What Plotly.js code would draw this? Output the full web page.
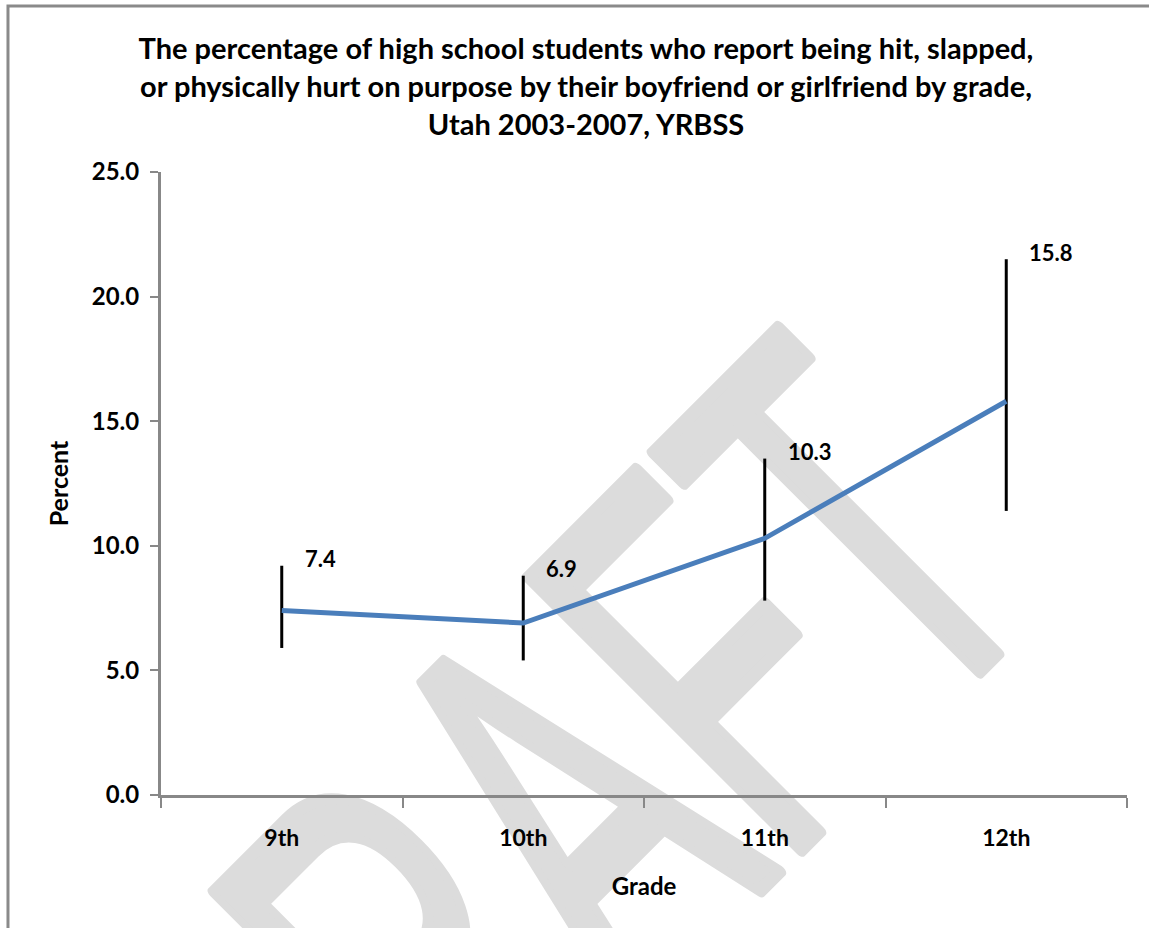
<!DOCTYPE html>
<html>
<head>
<meta charset="utf-8">
<script src="https://cdn.plot.ly/plotly-3.0.1.min.js"></script>
<style>
html,body{margin:0;padding:0;background:#fff;}
#chart{width:1149px;height:928px;}
</style>
</head>
<body>
<div id="chart"></div>
<script>
// ---- data ----
const grades = ['9th', '10th', '11th', '12th'];
const percent = [7.4, 6.9, 10.3, 15.8];
const ciLower = [5.9, 5.4, 7.8, 11.4];
const ciUpper = [9.2, 8.8, 13.5, 21.5];
const valueLabels = ['7.4', '6.9', '10.3', '15.8'];
const yTickVals = [0, 5, 10, 15, 20, 25];
const yTickText = ['0.0', '5.0', '10.0', '15.0', '20.0', '25.0'];
const titleText = 'The percentage of high school students who report being hit, slapped,<br>' +
                  'or physically hurt on purpose by their boyfriend or girlfriend by grade,<br>' +
                  'Utah 2003-2007, YRBSS';
const xTitle = 'Grade';
const yTitle = 'Percent';
const watermarkText = 'DRAFT';

// ---- styles ----
const FONT = 'Lato, "Open Sans", "DejaVu Sans", sans-serif';
const AXIS_GRAY = '#888888';
const WM_COLOR = '#dcdcdc';
const WM_STRETCH = 1.75;

const trace = {
  type: 'scatter',
  mode: 'lines',
  x: grades,
  y: percent,
  line: {color: '#4a7ebb', width: 5},
  error_y: {
    type: 'data',
    symmetric: false,
    array: percent.map((v, i) => ciUpper[i] - v),
    arrayminus: percent.map((v, i) => v - ciLower[i]),
    color: '#000000',
    thickness: 3,
    width: 0
  },
  hoverinfo: 'skip'
};

const labelAnnotations = grades.map((g, i) => ({
  x: g, y: ciUpper[i], xref: 'x', yref: 'y',
  text: valueLabels[i],
  showarrow: false,
  xanchor: 'left', yanchor: 'middle',
  xshift: 21, yshift: 7,
  font: {family: FONT, size: 22, weight: 'bold', color: '#000'}
}));

const layout = {
  width: 1149,
  height: 928,
  margin: {l: 161, r: 22, t: 172, b: 133},
  paper_bgcolor: '#ffffff',
  plot_bgcolor: 'rgba(0,0,0,0)',
  showlegend: false,
  font: {family: FONT, color: '#000', weight: 'bold'},
  title: {
    text: titleText,
    font: {family: FONT, size: 29, weight: 'bold', color: '#000'},
    x: 0.51, xref: 'container', xanchor: 'center',
    y: 0.936, yref: 'container', yanchor: 'middle'
  },
  xaxis: {
    type: 'category',
    range: [-0.5, 3.5],
    tickson: 'boundaries',
    ticks: 'outside', ticklen: 10, tickwidth: 2, tickcolor: AXIS_GRAY,
    showline: true, linecolor: AXIS_GRAY, linewidth: 3,
    showgrid: false, zeroline: false,
    tickfont: {family: FONT, size: 23, weight: 'bold', color: '#000'},
    ticklabelstandoff: 20,
    title: {text: xTitle, font: {family: FONT, size: 24, weight: 'bold', color: '#000'}, standoff: 29},
    fixedrange: true
  },
  yaxis: {
    range: [0, 25],
    tickmode: 'array', tickvals: yTickVals, ticktext: yTickText,
    ticks: 'outside', ticklen: 8, tickwidth: 2, tickcolor: AXIS_GRAY,
    showline: true, linecolor: AXIS_GRAY, linewidth: 3,
    showgrid: false, zeroline: false,
    tickfont: {family: FONT, size: 24, weight: 'bold', color: '#000'},
    ticklabelstandoff: 6,
    title: {text: yTitle, font: {family: FONT, size: 25, weight: 'bold', color: '#000'}, standoff: 16},
    fixedrange: true
  },
  shapes: [
    {
      type: 'rect', xref: 'paper', yref: 'paper',
      x0: 0.3237, x1: 0.4237, y0: -0.0773, y1: 0.0227,
      line: {width: 0}, fillcolor: 'rgba(0,0,0,0)',
      layer: 'below',
      label: {
        text: watermarkText,
        textangle: -45,
        textposition: 'middle center',
        font: {family: '"Liberation Sans", Arial, sans-serif', size: 320, weight: 'normal', color: WM_COLOR}
      }
    },
    {
      type: 'rect', xref: 'paper', yref: 'paper',
      x0: -0.1584, x1: 1.04, y0: -0.25, y1: 1.2665,
      line: {width: 3, color: '#8a8a8a'}, fillcolor: 'rgba(0,0,0,0)',
      layer: 'below'
    }
  ],
  annotations: labelAnnotations
};

Plotly.newPlot('chart', [trace], layout, {staticPlot: true, displayModeBar: false}).then(function (gd) {
  gd.querySelectorAll('text').forEach(function (t) {
    if (t.textContent === watermarkText) {
      const bb = t.getBBox();
      const cx = bb.x + bb.width / 2, cy = bb.y + bb.height / 2;
      const tr = t.getAttribute('transform') || '';
      t.setAttribute('transform', tr + ' translate(' + cx + ',' + cy + ') scale(1,' + WM_STRETCH + ') translate(' + (-cx) + ',' + (-cy) + ')');
      t.style.stroke = WM_COLOR;
      t.style.strokeWidth = '11px';
      t.style.strokeLinejoin = 'round';
      t.style.vectorEffect = 'non-scaling-stroke';
    }
  });
});
</script>
</body>
</html>
